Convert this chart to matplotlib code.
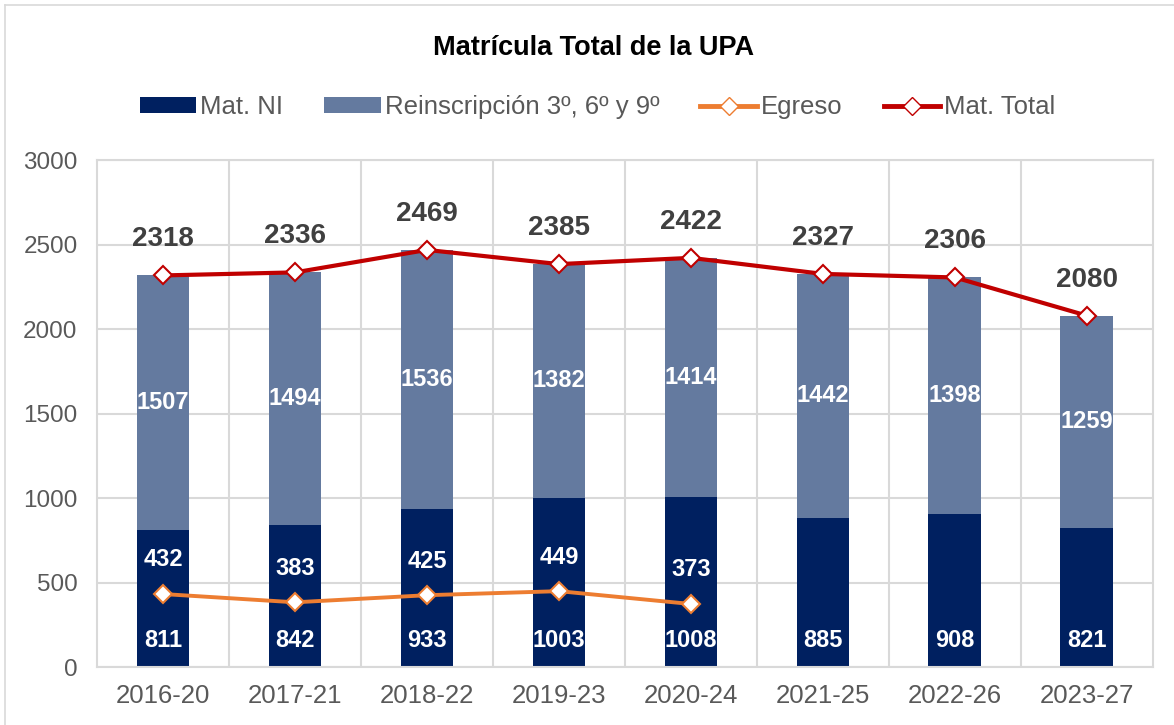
import numpy as np
import matplotlib
matplotlib.use("Agg")
import matplotlib.pyplot as plt
from matplotlib.lines import Line2D
from matplotlib.patches import Patch

plt.rcParams["font.family"] = ["Liberation Sans", "DejaVu Sans"]

periodos = ["2016-20", "2017-21", "2018-22", "2019-23", "2020-24",
            "2021-25", "2022-26", "2023-27"]
mat_ni = [811, 842, 933, 1003, 1008, 885, 908, 821]
reinscripcion = [1507, 1494, 1536, 1382, 1414, 1442, 1398, 1259]
mat_total = [2318, 2336, 2469, 2385, 2422, 2327, 2306, 2080]
egreso = [432, 383, 425, 449, 373]

C_NI = "#002060"
C_REIN = "#647A9F"
C_EGR = "#ED7D31"
C_TOT = "#C00000"
C_GRID = "#D9D9D9"
C_TXT = "#595959"

fig = plt.figure(figsize=(11.74, 7.25), dpi=100)
ax = fig.add_axes([0.0826, 0.08, 0.8994, 0.699])

x = np.arange(len(periodos))
w = 0.4

ax.bar(x, mat_ni, width=w, color=C_NI, zorder=2)
ax.bar(x, reinscripcion, width=w, bottom=mat_ni, color=C_REIN, zorder=2)

xe = x[:len(egreso)]
ax.plot(xe, egreso, "-", color=C_EGR, linewidth=2.8, marker="D",
        markersize=9.5, markerfacecolor="white", markeredgecolor=C_EGR,
        markeredgewidth=1.5, zorder=4)
ax.plot(x, mat_total, "-", color=C_TOT, linewidth=3, marker="D",
        markersize=9.5, markerfacecolor="white", markeredgecolor=C_TOT,
        markeredgewidth=1.5, zorder=5)

# etiquetas
for i in range(len(periodos)):
    ax.annotate(str(mat_ni[i]), (x[i], 0), xytext=(0, 19),
                textcoords="offset points", ha="center", va="center",
                fontsize=17, fontweight="bold", color="white", zorder=6)
    ax.text(x[i], mat_ni[i] + reinscripcion[i] / 2, str(reinscripcion[i]),
            ha="center", va="center", fontsize=17, fontweight="bold",
            color="white", zorder=6)
    ax.annotate(str(mat_total[i]), (x[i], mat_total[i]), xytext=(0, 26),
                textcoords="offset points", ha="center", va="center",
                fontsize=20, fontweight="bold", color="#404040", zorder=6)

for i, v in enumerate(egreso):
    ax.annotate(str(v), (xe[i], v), xytext=(0, 24.5),
                textcoords="offset points", ha="center", va="center",
                fontsize=17, fontweight="bold", color="white", zorder=6)

ax.set_xlim(-0.5, len(periodos) - 0.5)
ax.set_ylim(0, 3000)
ax.set_yticks(np.arange(0, 3001, 500))
ax.set_xticks(x)
ax.set_xticklabels(periodos)
ax.set_xticks(np.arange(0.5, len(periodos) - 0.5, 1), minor=True)
ax.tick_params(axis="both", which="both", length=0, colors=C_TXT)
ax.tick_params(axis="y", labelsize=17.5, pad=14)
ax.tick_params(axis="x", labelsize=18.5, pad=12)
ax.grid(axis="y", color=C_GRID, linewidth=1.5, zorder=0)
ax.grid(axis="x", which="minor", color=C_GRID, linewidth=1.5, zorder=0)
ax.set_axisbelow(True)
for s in ax.spines.values():
    s.set_color(C_GRID)
    s.set_linewidth(1.5)

fig.text(0.506, 0.934, "Matrícula Total de la UPA", ha="center", va="center",
         fontsize=19.5, fontweight="bold", color="black")

handles = [
    Patch(facecolor=C_NI, label="Mat. NI"),
    Patch(facecolor=C_REIN, label="Reinscripción 3º, 6º y 9º"),
    Line2D([0], [0], color=C_EGR, linewidth=3.5, marker="D", markersize=9,
           markerfacecolor="white", markeredgecolor=C_EGR, label="Egreso"),
    Line2D([0], [0], color=C_TOT, linewidth=3.5, marker="D", markersize=9,
           markerfacecolor="white", markeredgecolor=C_TOT, label="Mat. Total"),
]
leg = fig.legend(handles=handles, loc="center", bbox_to_anchor=(0.509, 0.852),
                 ncol=4, frameon=False, fontsize=18.5, handlelength=2.2,
                 handleheight=0.6, handletextpad=0.15, columnspacing=1.6,
                 labelcolor=C_TXT)

# borde del gráfico
fig.add_artist(Line2D([0.0043, 0.0043], [0, 0.993], color=C_GRID,
                      linewidth=1.2, transform=fig.transFigure))
fig.add_artist(Line2D([0.0043, 1], [0.993, 0.993], color=C_GRID,
                      linewidth=1.2, transform=fig.transFigure))

fig.savefig("out.png", dpi=100)
